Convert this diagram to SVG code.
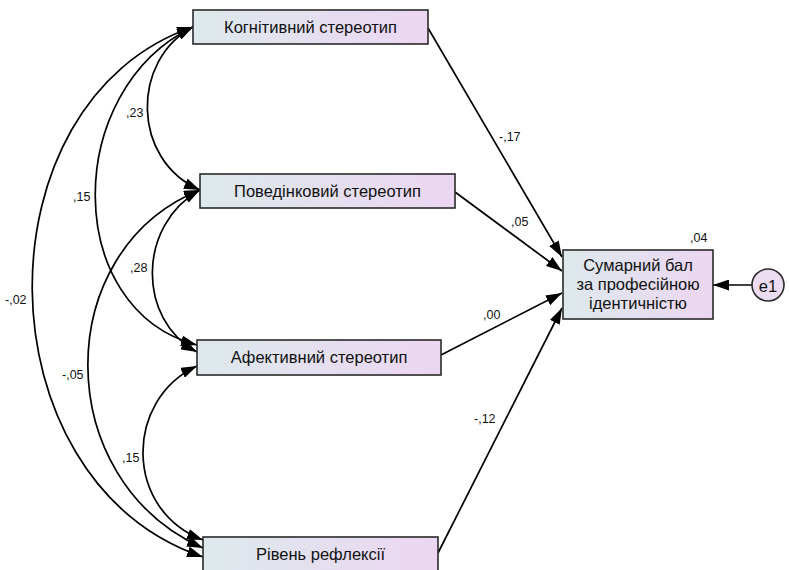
<svg xmlns="http://www.w3.org/2000/svg" width="789" height="570" viewBox="0 0 789 570">
<style>
.box{stroke:#2a2a2a;stroke-width:1.6;fill:url(#g)}
.lbl{font-family:"Liberation Sans",Arial,sans-serif;font-size:16.5px;fill:#111;text-anchor:middle;dominant-baseline:central}
.num{font-family:"Liberation Sans",Arial,sans-serif;font-size:12.5px;fill:#111;dominant-baseline:central}
.c{fill:none;stroke:#000;stroke-width:1.7}
</style>
<defs>
<linearGradient id="g" x1="0" y1="0" x2="1" y2="0">
<stop offset="0" stop-color="#dde9ec"/>
<stop offset="1" stop-color="#ecd6f2"/>
</linearGradient>
<marker id="ah" viewBox="0 0 16 11" refX="16" refY="5.5" markerWidth="16" markerHeight="11" markerUnits="userSpaceOnUse" orient="auto-start-reverse">
<path d="M0,0 L16,5.5 L0,11 z" fill="#000"/>
</marker>
</defs>
<rect width="789" height="570" fill="#fff"/>
<g id="connectors">
<path class="c" d="M193,27 C131,60 131,160 200,190" marker-start="url(#ah)" marker-end="url(#ah)"/>
<path class="c" d="M193,27 C62,90 62,310 197,345" marker-start="url(#ah)" marker-end="url(#ah)"/>
<path class="c" d="M193,27 C-23,100 -23,480 203,557" marker-start="url(#ah)" marker-end="url(#ah)"/>
<path class="c" d="M200,190 C137,225 137,320 197,352" marker-start="url(#ah)" marker-end="url(#ah)"/>
<path class="c" d="M200,190 C50,250 50,480 203,548" marker-start="url(#ah)" marker-end="url(#ah)"/>
<path class="c" d="M197,366 C124,400 124,510 203,540" marker-start="url(#ah)" marker-end="url(#ah)"/>
<path class="c" d="M428,28 L562,257" marker-end="url(#ah)"/>
<path class="c" d="M455,192 L562,271" marker-end="url(#ah)"/>
<path class="c" d="M441,355 L562,293" marker-end="url(#ah)"/>
<path class="c" d="M438,553 L562,308" marker-end="url(#ah)"/>
<path class="c" d="M752,285 L713,285" marker-end="url(#ah)"/>
<text class="num" x="126" y="113">,23</text>
<text class="num" x="73" y="197">,15</text>
<text class="num" x="130" y="268">,28</text>
<text class="num" x="5" y="300">-,02</text>
<text class="num" x="62" y="375">-,05</text>
<text class="num" x="122" y="458">,15</text>
<text class="num" x="499" y="137">-,17</text>
<text class="num" x="511" y="222">,05</text>
<text class="num" x="483" y="315">,00</text>
<text class="num" x="474" y="419">-,12</text>
<text class="num" x="690" y="238">,04</text>
</g>
<g id="kog">
<rect class="box" x="193" y="10" width="235" height="34"/>
<text class="lbl" x="310.5" y="27">Когнітивний стереотип</text>
</g>
<g id="pov">
<rect class="box" x="200" y="174" width="255" height="34"/>
<text class="lbl" x="327.5" y="191">Поведінковий стереотип</text>
</g>
<g id="afe">
<rect class="box" x="197" y="340" width="244" height="35"/>
<text class="lbl" x="319" y="357">Афективний стереотип</text>
</g>
<g id="rif">
<rect class="box" x="203" y="537" width="235" height="36"/>
<text class="lbl" x="320.5" y="554">Рівень рефлексії</text>
</g>
<g id="sum">
<rect class="box" x="563" y="250" width="150" height="69"/>
<text class="lbl" x="638" y="265">Сумарний бал</text>
<text class="lbl" x="638" y="284">за професійною</text>
<text class="lbl" x="638" y="303">ідентичністю</text>
</g>
<g id="e1">
<circle cx="768" cy="285" r="16" fill="#ecdcf1" stroke="#2a2a2a" stroke-width="1.6"/>
<text class="lbl" x="768" y="286">e1</text>
</g>
</svg>
